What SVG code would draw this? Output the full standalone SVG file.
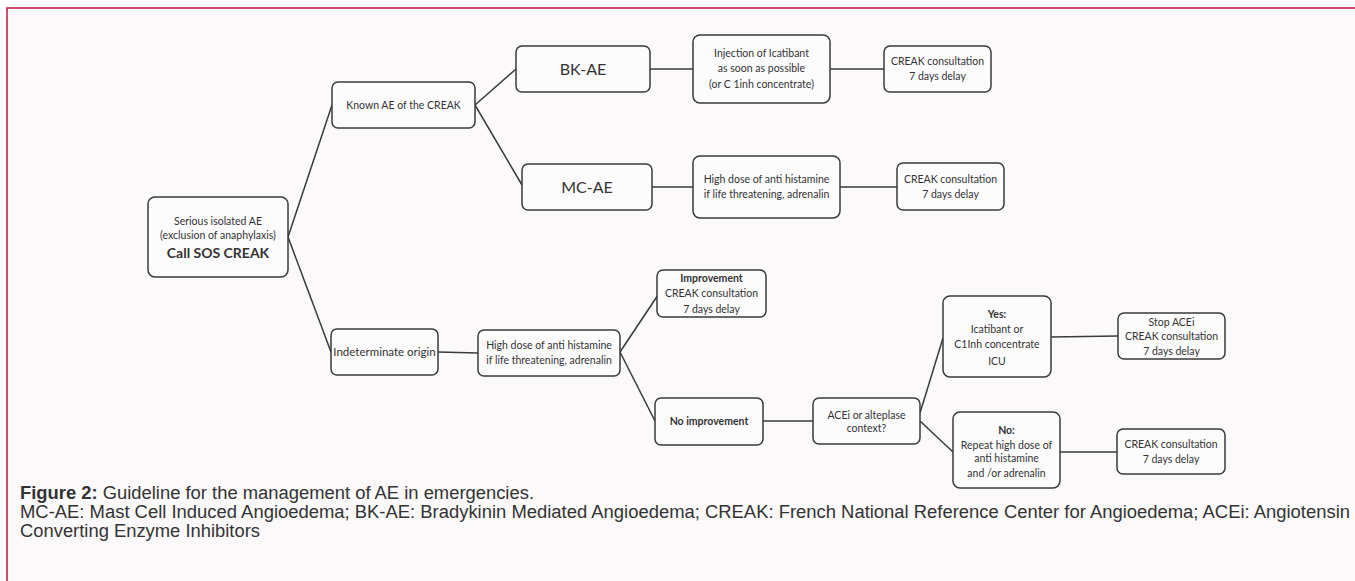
<svg xmlns="http://www.w3.org/2000/svg" width="1355" height="581" viewBox="0 0 1355 581">
<style>
.bx{fill:#fdfcfd;stroke:#3a3a3a;stroke-width:1.5}
.t{font-family:Lato,"Open Sans",sans-serif;font-size:10.5px;fill:#333;text-anchor:middle}
.b{font-weight:bold}
.big{font-size:16px}
.cn line{stroke:#3a3a3a;stroke-width:1.5}
.cap{font-family:"Liberation Sans Narrow","Liberation Sans",Arial,sans-serif;font-size:18px;fill:#333}
</style>
<rect x="0" y="0" width="1355" height="581" fill="#ffffff"/>
<rect x="7" y="8" width="1400" height="620" fill="#fbf9fa" stroke="#c0143c" stroke-width="1.5"/>
<g class="cn" id="connectors">
<line x1="288" y1="237" x2="332" y2="105"/>
<line x1="288" y1="237" x2="331" y2="352"/>
<line x1="475" y1="105" x2="516" y2="69"/>
<line x1="475" y1="105" x2="522" y2="185"/>
<line x1="650" y1="69" x2="693" y2="69"/>
<line x1="830" y1="69" x2="884" y2="69"/>
<line x1="652" y1="187" x2="693" y2="187"/>
<line x1="840" y1="187" x2="897" y2="187"/>
<line x1="438" y1="352" x2="478" y2="353"/>
<line x1="620" y1="352" x2="658" y2="295"/>
<line x1="620" y1="352" x2="655" y2="421"/>
<line x1="763" y1="421" x2="813" y2="421"/>
<line x1="920" y1="413" x2="943" y2="338"/>
<line x1="920" y1="421" x2="953" y2="452"/>
<line x1="1051" y1="337" x2="1118" y2="336"/>
<line x1="1060" y1="452" x2="1117" y2="452"/>
</g>
<g id="serious">
<rect class="bx" x="148" y="197" width="140" height="80" rx="7"/>
<text class="t" x="218" y="225">Serious isolated AE</text>
<text class="t" x="218" y="239">(exclusion of anaphylaxis)</text>
<text class="t b" x="218" y="258" style="font-size:14px">Call SOS CREAK</text>
</g>
<g id="known">
<rect class="bx" x="332" y="82" width="143" height="46" rx="6"/>
<text class="t" x="403.5" y="109">Known AE of the CREAK</text>
</g>
<g id="bkae">
<rect class="bx" x="516" y="46" width="134" height="46" rx="6"/>
<text class="t big" x="583" y="75">BK-AE</text>
</g>
<g id="injection">
<rect class="bx" x="693" y="35" width="137" height="68" rx="7"/>
<text class="t" x="761.5" y="57">Injection of Icatibant</text>
<text class="t" x="761.5" y="72">as soon as possible</text>
<text class="t" x="761.5" y="88">(or C 1inh concentrate)</text>
</g>
<g id="creak1">
<rect class="bx" x="884" y="46" width="107" height="46" rx="6"/>
<text class="t" x="937.5" y="65">CREAK consultation</text>
<text class="t" x="937.5" y="80">7 days delay</text>
</g>
<g id="mcae">
<rect class="bx" x="522" y="164" width="130" height="46" rx="6"/>
<text class="t big" x="587" y="193">MC-AE</text>
</g>
<g id="highdose1">
<rect class="bx" x="693" y="156" width="147" height="62" rx="7"/>
<text class="t" x="766.5" y="183">High dose of anti histamine</text>
<text class="t" x="766.5" y="198">if life threatening, adrenalin</text>
</g>
<g id="creak2">
<rect class="bx" x="897" y="163" width="107" height="47" rx="6"/>
<text class="t" x="950.5" y="183">CREAK consultation</text>
<text class="t" x="950.5" y="198">7 days delay</text>
</g>
<g id="indeterminate">
<rect class="bx" x="331" y="329" width="107" height="46" rx="6"/>
<text class="t" x="384.5" y="356" style="font-size:11.5px">Indeterminate origin</text>
</g>
<g id="highdose2">
<rect class="bx" x="478" y="330" width="142" height="46" rx="6"/>
<text class="t" x="549" y="349">High dose of anti histamine</text>
<text class="t" x="549" y="364">if life threatening, adrenalin</text>
</g>
<g id="improvement">
<rect class="bx" x="657" y="270" width="109" height="47" rx="6"/>
<text class="t b" x="711.5" y="282">Improvement</text>
<text class="t" x="711.5" y="297">CREAK consultation</text>
<text class="t" x="711.5" y="313">7 days delay</text>
</g>
<g id="noimprovement">
<rect class="bx" x="655" y="398" width="108" height="47" rx="6"/>
<text class="t b" x="709" y="425">No improvement</text>
</g>
<g id="acei">
<rect class="bx" x="813" y="398" width="107" height="46" rx="6"/>
<text class="t" x="866.5" y="419">ACEi or alteplase</text>
<text class="t" x="866.5" y="432">context?</text>
</g>
<g id="yes">
<rect class="bx" x="943" y="296" width="108" height="81" rx="7"/>
<text class="t b" x="997" y="318">Yes:</text>
<text class="t" x="997" y="333">Icatibant or</text>
<text class="t" x="997" y="348">C1Inh concentrate</text>
<text class="t" x="997" y="365">ICU</text>
</g>
<g id="stopacei">
<rect class="bx" x="1118" y="313" width="107" height="46" rx="6"/>
<text class="t" x="1171.5" y="326">Stop ACEi</text>
<text class="t" x="1171.5" y="340">CREAK consultation</text>
<text class="t" x="1171.5" y="355">7 days delay</text>
</g>
<g id="no">
<rect class="bx" x="953" y="412" width="107" height="76" rx="7"/>
<text class="t b" x="1006.5" y="434">No:</text>
<text class="t" x="1006.5" y="449">Repeat high dose of</text>
<text class="t" x="1006.5" y="462">anti histamine</text>
<text class="t" x="1006.5" y="477">and /or adrenalin</text>
</g>
<g id="creak3">
<rect class="bx" x="1117" y="429" width="108" height="45" rx="6"/>
<text class="t" x="1171" y="448">CREAK consultation</text>
<text class="t" x="1171" y="463">7 days delay</text>
</g>
<g id="caption">
<text class="cap" x="20" y="499" textLength="514" lengthAdjust="spacingAndGlyphs"><tspan font-weight="bold">Figure 2:</tspan> Guideline for the management of AE in emergencies.</text>
<text class="cap" x="20" y="518" textLength="1330" lengthAdjust="spacingAndGlyphs">MC-AE: Mast Cell Induced Angioedema; BK-AE: Bradykinin Mediated Angioedema; CREAK: French National Reference Center for Angioedema; ACEi: Angiotensin</text>
<text class="cap" x="20" y="537" textLength="240" lengthAdjust="spacingAndGlyphs">Converting Enzyme Inhibitors</text>
</g>
</svg>
